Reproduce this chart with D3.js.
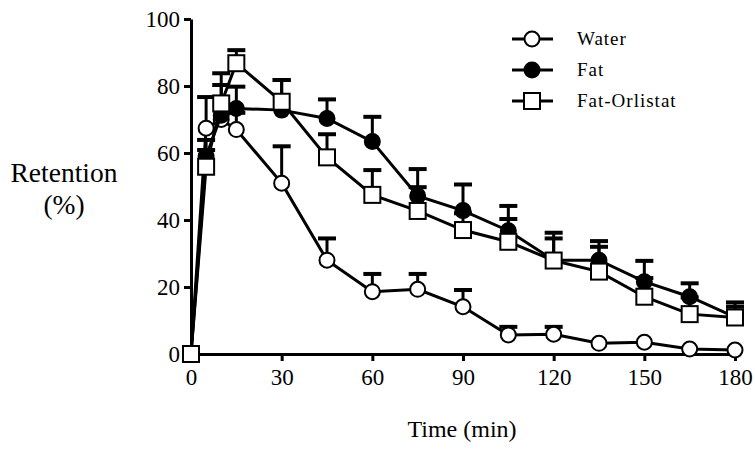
<!DOCTYPE html>
<html>
<head>
<meta charset="utf-8">
<script src="https://cdn.jsdelivr.net/npm/d3@7"></script>
<style>
body { margin: 0; background: #fff; }
svg text { font-family: "Liberation Serif", "Times New Roman", Times, "DejaVu Serif", serif !important; fill: #000; }
</style>
</head>
<body>
<div id="main"></div>
<script>
var ctx = {
    w: 755,
    h: 451,
    font: "'Liberation Serif', 'Times New Roman', Times, 'DejaVu Serif', serif"
};

// data (min, % retention, upper SEM)
var times = [0, 5, 10, 15, 30, 45, 60, 75, 90, 105, 120, 135, 150, 165, 180];
var water = [0, 67.4, 70, 67, 51, 28, 18.6, 19.3, 14.1, 5.7, 5.9, 3.2, 3.5, 1.5, 1.2];
var waterErr = [0, 9.3, 0, 5, 11, 6.5, 5.3, 4.6, 5, 2.4, 2.2, 0, 0, 0, 0];
var fat = [0, 59, 71.3, 73.3, 72.8, 70.3, 63.4, 47.2, 42.8, 36.8, 28, 28, 21.6, 17.1, 11];
var fatErr = [0, 4.9, 9, 6.5, 9, 5.7, 7.4, 8, 7.8, 7.4, 8.2, 5.7, 6.2, 4, 4.4];
var orlistat = [0, 55.9, 74.8, 86.8, 75.3, 58.7, 47.5, 42.7, 37, 33.5, 27.9, 24.6, 17.1, 11.9, 10.9];
var orlistatErr = [0, 5, 9, 3.9, 6.5, 6.9, 7.4, 7.1, 5, 6.8, 6.6, 7.4, 5.6, 5, 3.2];
var seriesNames = ["Water", "Fat", "Fat-Orlistat"];
var xTicks = [0, 30, 60, 90, 120, 150, 180];
var yTicks = [0, 20, 40, 60, 80, 100];

var createViz = function(){
    var svgEl = d3.select("#main").append("svg")
        .attr("width", ctx.w)
        .attr("height", ctx.h)
        .attr("font-family", ctx.font);

    var x = d3.scaleLinear().domain([0, 180]).range([191, 735]);
    var y = d3.scaleLinear().domain([0, 100]).range([354, 19]);

    var series = [
        {name: seriesNames[0], vals: water, err: waterErr, shape: "circle", fill: "#fff"},
        {name: seriesNames[1], vals: fat, err: fatErr, shape: "circle", fill: "#000"},
        {name: seriesNames[2], vals: orlistat, err: orlistatErr, shape: "square", fill: "#fff"}
    ];

    // axes
    var xAxis = svgEl.append("g")
        .attr("transform", "translate(0," + y(0) + ")")
        .call(d3.axisBottom(x).tickValues(xTicks).tickSize(7).tickSizeOuter(0).tickPadding(8));
    var yAxis = svgEl.append("g")
        .attr("transform", "translate(" + x(0) + ",0)")
        .call(d3.axisLeft(y).tickValues(yTicks).tickSize(7).tickSizeOuter(0).tickPadding(4));
    [xAxis, yAxis].forEach(function(ax){
        ax.attr("font-family", ctx.font).attr("font-size", 23);
        ax.select(".domain").attr("stroke", "#000").attr("stroke-width", 3);
        ax.selectAll(".tick line").attr("stroke", "#000").attr("stroke-width", 3);
        ax.selectAll(".tick text").attr("fill", "#000");
    });

    var line = d3.line()
        .x(function(d, i){ return x(times[i]); })
        .y(function(d){ return y(d); });

    var drawMarker = function(g, shape, fill, cx, cy){
        if (shape == "circle"){
            g.append("circle")
                .attr("cx", cx).attr("cy", cy).attr("r", 7.5)
                .attr("fill", fill).attr("stroke", "#000").attr("stroke-width", 2);
        } else {
            g.append("rect")
                .attr("x", cx - 8).attr("y", cy - 8)
                .attr("width", 16).attr("height", 16)
                .attr("fill", fill).attr("stroke", "#000").attr("stroke-width", 2);
        }
    };

    series.forEach(function(s){
        var g = svgEl.append("g").attr("class", "series");
        // error bars (upper only)
        s.vals.forEach(function(v, i){
            if (s.err[i] <= 0) return;
            var xi = x(times[i]);
            g.append("line")
                .attr("x1", xi).attr("x2", xi)
                .attr("y1", y(v)).attr("y2", y(v + s.err[i]))
                .attr("stroke", "#000").attr("stroke-width", 3);
            g.append("line")
                .attr("x1", xi - 9).attr("x2", xi + 9)
                .attr("y1", y(v + s.err[i])).attr("y2", y(v + s.err[i]))
                .attr("stroke", "#000").attr("stroke-width", 4);
        });
        g.append("path")
            .datum(s.vals)
            .attr("d", line)
            .attr("fill", "none")
            .attr("stroke", "#000")
            .attr("stroke-width", 3);
        s.vals.forEach(function(v, i){
            drawMarker(g, s.shape, s.fill, x(times[i]), y(v));
        });
    });

    // legend
    var lg = svgEl.append("g");
    series.forEach(function(s, i){
        var ly = 39 + i * 31;
        lg.append("line")
            .attr("x1", 512).attr("x2", 553)
            .attr("y1", ly).attr("y2", ly)
            .attr("stroke", "#000").attr("stroke-width", 3);
        drawMarker(lg, s.shape, s.fill, 532, ly);
        lg.append("text")
            .attr("x", 577).attr("y", ly + 6)
            .attr("font-size", 19)
            .style("letter-spacing", "1px")
            .text(s.name);
    });

    // axis titles
    svgEl.append("text")
        .attr("x", 64).attr("y", 182)
        .attr("text-anchor", "middle")
        .attr("font-size", 27.5)
        .text("Retention");
    svgEl.append("text")
        .attr("x", 64).attr("y", 214)
        .attr("text-anchor", "middle")
        .attr("font-size", 27.5)
        .text("(%)");
    svgEl.append("text")
        .attr("x", 462).attr("y", 437)
        .attr("text-anchor", "middle")
        .attr("font-size", 24)
        .text("Time (min)");
};

createViz();
</script>
</body>
</html>
